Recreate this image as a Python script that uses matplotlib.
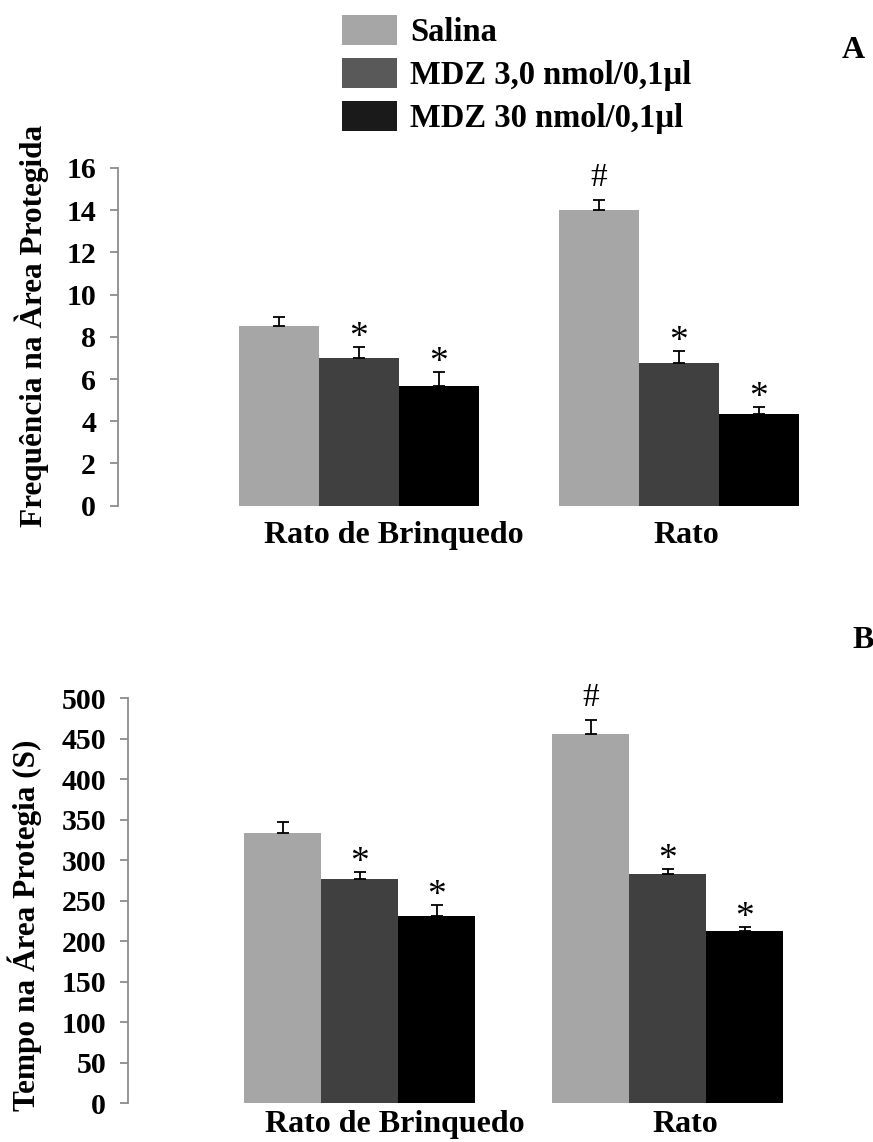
import matplotlib
matplotlib.use("Agg")
import matplotlib.pyplot as plt
from matplotlib.patches import Patch
import numpy as np

plt.rcParams['font.family'] = ['Liberation Serif', 'DejaVu Serif']

# dados
groups = ["Rato de Brinquedo", "Rato"]
series = ["Salina", "MDZ 3,0 nmol/0,1µl", "MDZ 30 nmol/0,1µl"]

freq_salina = [8.5, 14.0]
freq_mdz3 = [7.0, 6.75]
freq_mdz30 = [5.67, 4.35]
freq_err_salina = [0.43, 0.48]
freq_err_mdz3 = [0.52, 0.6]
freq_err_mdz30 = [0.68, 0.34]

tempo_salina = [334, 456]
tempo_mdz3 = [277, 283]
tempo_mdz30 = [231, 213]
tempo_err_salina = [13, 17]
tempo_err_mdz3 = [8, 6]
tempo_err_mdz30 = [14, 5]

marks_salina = ["", "#"]
marks_mdz3 = ["*", "*"]
marks_mdz30 = ["*", "*"]

bar_colors = ["#a6a6a6", "#404040", "#000000"]
legend_colors = ["#a6a6a6", "#595959", "#1a1a1a"]

W, H = 873, 1142
fig = plt.figure(figsize=(W / 100, H / 100), dpi=100)


def add_ax(left, top, right, bottom):
    return fig.add_axes([left / W, 1 - bottom / H, (right - left) / W, (bottom - top) / H])


def draw_panel(ax, vals, errs, marks, yticks, label_shift, label_pad):
    gpos = np.arange(len(groups)) * 4.0
    for i in range(3):
        x = gpos + (i - 1)
        ax.bar(x, vals[i], width=1.0, color=bar_colors[i], linewidth=0)
        ax.errorbar(x, vals[i], yerr=[np.zeros(len(x)), errs[i]], fmt='none',
                    ecolor='black', elinewidth=1.3, capsize=4.3, capthick=1.3)
        for xi, v, e, m in zip(x, vals[i], errs[i], marks[i]):
            if not m:
                continue
            if m == "#":
                off, fs = 10, 24
            else:
                off, fs = 0, 27
            ax.annotate(m, xy=(xi, v + e), xytext=(0, off), textcoords='offset points',
                        ha='center', va='baseline', fontsize=fs)
    ax.set_xlim(-3.0125, 6.2)
    ax.set_ylim(yticks[0], yticks[-1])
    ax.set_yticks(yticks)
    ax.set_xticks(gpos + np.array(label_shift))
    ax.set_xticklabels(groups, fontsize=23, fontweight='bold')
    ax.tick_params(axis='x', length=0, pad=label_pad)
    ax.tick_params(axis='y', length=5.8, width=1.3, color='#8c8c8c', pad=10,
                   labelsize=21.5)
    for t in ax.get_yticklabels():
        t.set_fontweight('bold')
    for s in ['top', 'right', 'bottom']:
        ax.spines[s].set_visible(False)
    ax.spines['left'].set_color('#8c8c8c')
    ax.spines['left'].set_linewidth(1.3)


# painel A
axA = add_ax(118, 168, 855, 505.7)
draw_panel(axA, [freq_salina, freq_mdz3, freq_mdz30],
           [freq_err_salina, freq_err_mdz3, freq_err_mdz30],
           [marks_salina, marks_mdz3, marks_mdz30],
           np.arange(0, 17, 2), [0.44, 0.09], 11)

# painel B
axB = add_ax(128, 698.3, 837, 1103.3)
draw_panel(axB, [tempo_salina, tempo_mdz3, tempo_mdz30],
           [tempo_err_salina, tempo_err_mdz3, tempo_err_mdz30],
           [marks_salina, marks_mdz3, marks_mdz30],
           np.arange(0, 501, 50), [0.45, 0.23], 5)

# rotulos do eixo y
fig.text(32 / W, 1 - 325.5 / H, "Frequência na Àrea Protegida", rotation=90,
         ha='center', va='center', fontsize=22.5, fontweight='bold')
fig.text(25 / W, 1 - 925 / H, "Tempo na Área Protegia (S)", rotation=90,
         ha='center', va='center', fontsize=22.5, fontweight='bold')

# letras dos paineis
fig.text(842 / W, 1 - 58 / H, "A", ha='left', va='baseline', fontsize=23, fontweight='bold')
fig.text(852 / W, 1 - 648 / H, "B", ha='left', va='baseline', fontsize=23, fontweight='bold')

# legenda
handles = [Patch(facecolor=c, edgecolor='none') for c in legend_colors]
fig.legend(handles, series, loc='upper left', bbox_to_anchor=(342 / W, 1 - 15 / H),
           frameon=False, borderpad=0, borderaxespad=0,
           prop={'size': 23.5, 'weight': 'bold'},
           handlelength=1.69, handleheight=1.05, handletextpad=0.4,
           labelspacing=0.3)

fig.savefig("out.png", dpi=100)
